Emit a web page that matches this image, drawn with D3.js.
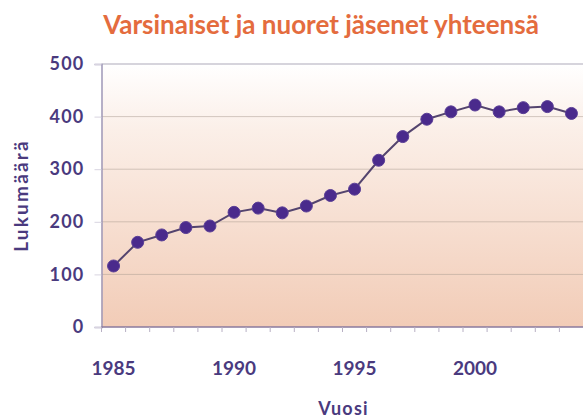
<!DOCTYPE html>
<html><head><meta charset="utf-8">
<script src="https://cdn.jsdelivr.net/npm/d3@7"></script>
<style>body{margin:0;background:#fff;}svg{display:block;}</style>
</head><body>
<svg id="c" width="583" height="419"></svg>
<script>
const years = [1985,1986,1987,1988,1989,1990,1991,1992,1993,1994,1995,1996,1997,1998,1999,2000,2001,2002,2003,2004];
const members = [116,161,175,189,192,218,226,217,230,250,262,317,362,395,409,422,409,417,419,406];
const yTicks = [0,100,200,300,400,500];
const xLabels = [1985,1990,1995,2000];
const title = "Varsinaiset ja nuoret jäsenet yhteensä";
const xTitle = "Vuosi";
const yTitle = "Lukumäärä";

const svg = d3.select("#c");
const L = 101.5, R = 583.5, T = 64, B = 327;
const x = d3.scaleBand().domain(years).range([L, R]);
const y = d3.scaleLinear().domain([0, 500]).range([B, T]);
const font = "Lato, 'Open Sans', sans-serif";
const purple = "#4a3a7e";

const defs = svg.append("defs");
const g = defs.append("linearGradient").attr("id","bg").attr("x1",0).attr("y1",0).attr("x2",0).attr("y2",1);
g.append("stop").attr("offset","0%").attr("stop-color","#ffffff");
g.append("stop").attr("offset","25%").attr("stop-color","#fbefe8");
g.append("stop").attr("offset","100%").attr("stop-color","#f2ccb7");

svg.append("rect").attr("x", L).attr("y", T).attr("width", R - L).attr("height", B - T).attr("fill", "url(#bg)");

// gridlines
svg.append("g").selectAll("line").data(yTicks.filter(d => d > 0 && d < 500)).join("line")
  .attr("x1", L).attr("x2", R).attr("y1", d => y(d)).attr("y2", d => y(d))
  .attr("stroke", "#a89a90").attr("stroke-width", 1).attr("stroke-dasharray", "1,1");
svg.append("line").attr("x1", L).attr("x2", R).attr("y1", y(500)).attr("y2", y(500))
  .attr("stroke", "#c8c6d0").attr("stroke-width", 1.5);

// axes
const yAxis = d3.axisLeft(y).tickValues(yTicks).tickSize(7).tickPadding(10);
const ya = svg.append("g").attr("transform", `translate(${L},0)`).call(yAxis);
ya.select(".domain").attr("stroke", "#9e98b8").attr("stroke-width", 1.5);
ya.selectAll(".tick line").attr("stroke", "#d8d4e0");
ya.selectAll("text").attr("font-family", font).attr("font-weight", "bold").attr("font-size", 18)
  .attr("letter-spacing", 1.2).attr("fill", purple);

const xa = svg.append("g").attr("transform", `translate(0,${B})`);
xa.append("line").attr("x1", L).attr("x2", R).attr("stroke", "#8a7a9e").attr("stroke-width", 1.5);
xa.selectAll(".tk").data(years).join("line").attr("class","tk")
  .attr("x1", d => x(d)).attr("x2", d => x(d)).attr("y1", 0).attr("y2", 5)
  .attr("stroke", "#b8b0c4").attr("stroke-width", 1);
xa.selectAll(".lb").data(xLabels).join("text").attr("class","lb")
  .attr("x", d => x(d) + x.bandwidth()/2).attr("y", 48)
  .attr("text-anchor", "middle").attr("font-family", font).attr("font-weight", "bold")
  .attr("font-size", 19).attr("fill", purple).text(d => d);

// line and points
const cx = d => x(d) + x.bandwidth()/2;
const line = d3.line().x((d,i) => cx(years[i])).y(d => y(d));
svg.append("path").datum(members).attr("d", line).attr("fill", "none")
  .attr("stroke", "#54446e").attr("stroke-width", 2);
svg.append("g").selectAll("circle").data(members).join("circle")
  .attr("cx", (d,i) => cx(years[i])).attr("cy", d => y(d)).attr("r", 6)
  .attr("fill", "#4a2a8c").attr("stroke", "#5a3e96").attr("stroke-width", 1);

// titles
svg.append("text").attr("x", 321).attr("y", 34).attr("text-anchor", "middle")
  .attr("font-family", font).attr("font-weight", "bold").attr("font-size", 26)
  .attr("fill", "#e46c3e").text(title);
svg.append("text").attr("x", (L + R)/2 + 1).attr("y", 415).attr("text-anchor", "middle")
  .attr("font-family", font).attr("font-weight", "bold").attr("font-size", 18)
  .attr("letter-spacing", 1.2).attr("fill", purple).text(xTitle);
svg.append("text").attr("transform", `translate(28,${(T + B)/2}) rotate(-90)`).attr("text-anchor", "middle")
  .attr("font-family", font).attr("font-weight", "bold").attr("font-size", 19)
  .attr("letter-spacing", 2.2).attr("fill", purple).text(yTitle);
</script>
</body></html>
